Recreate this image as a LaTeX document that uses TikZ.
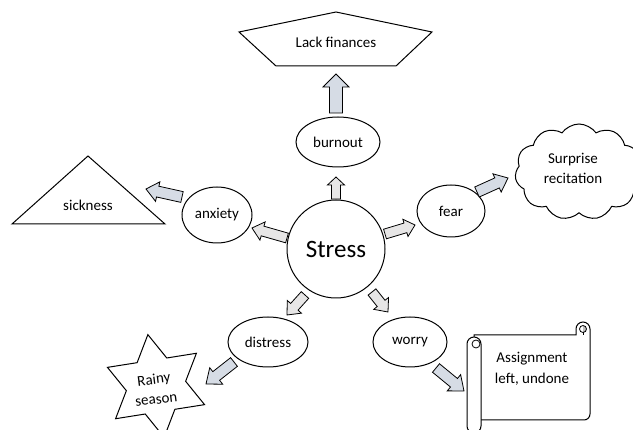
\documentclass[tikz,border=0pt]{standalone}
\usepackage{fontspec}
\setmainfont{Carlito}
\usetikzlibrary{calc,shapes.geometric,shapes.symbols}
\definecolor{arrgray}{HTML}{E7E6E6}
\definecolor{arrblue}{HTML}{D6DCE5}
\definecolor{curlgray}{HTML}{BFBFBF}
\tikzset{
  shp/.style={draw=black, line width=1pt, fill=white},
  ell/.style={shp, ellipse, inner sep=0pt, font=\fontsize{15}{18}\selectfont},
  lbl/.style={font=\fontsize{15}{20}\selectfont, align=center, inner sep=0pt},
  grayarr/.style={draw=black, line width=0.8pt, fill=arrgray, line join=miter},
  bluearr/.style={draw=black, line width=0.8pt, fill=arrblue, line join=miter},
}
% style, tail, tip, shaft half width, head half width, head length
\newcommand\blockarrow[6]{%
  \coordinate (#2-#3-h) at ($(#3)!#6!(#2)$);
  \draw[#1] ($(#2)!#4!90:(#3)$) -- ($(#2-#3-h)!#4!90:(#3)$) -- ($(#2-#3-h)!#5!90:(#3)$) -- (#3)
    -- ($(#2-#3-h)!#5!-90:(#3)$) -- ($(#2-#3-h)!#4!-90:(#3)$) -- ($(#2)!#4!-90:(#3)$) -- cycle;
}
\begin{document}
\begin{tikzpicture}[x=1pt, y=-1pt]
\useasboundingbox (0,0) rectangle (633,430);

% ---- centre
\node[shp, circle, minimum size=98pt, inner sep=0pt, font=\fontsize{25}{30}\selectfont] (stress) at (336,249) {Stress};

% ---- ellipses
\node[ell, minimum width=84pt, minimum height=50pt] (burnout) at (338,142) {burnout};
\node[ell, minimum width=70pt, minimum height=56pt] (anxiety) at (217,215) {anxiety};
\node[ell, minimum width=68pt, minimum height=52pt] (fear) at (451,211) {fear};
\node[ell, minimum width=80pt, minimum height=50pt] (distress) at (268,342) {distress};
\node[ell, minimum width=74pt, minimum height=50pt] (worry) at (410,342) {worry};

% ---- pentagon
\draw[shp] (239,32) -- (336,12) -- (432,32) -- (396,66) -- (276,66) -- cycle;
\node[lbl] (lack) at (336,42) {Lack finances};

% ---- triangle
\draw[shp] (12,224) -- (88,156) -- (165,224) -- cycle;
\node[lbl] (sick) at (88,205) {sickness};

% ---- cloud
\node[shp, cloud, cloud puffs=11, cloud puff arc=110, aspect=1.3,
      minimum width=128pt, minimum height=96pt, lbl] (cloud) at (579,172) {};
\node[lbl] (cloudtxt) at (573,168) {Surprise\\recitation};

% ---- star
\coordinate (starc) at (156,386);
\draw[shp] ($(starc)+(-99:52)$)
  \foreach \k in {0,...,5}{ -- ($(starc)+({-69+60*\k}:30)$) -- ($(starc)+({-39+60*\k}:52)$) } -- cycle;
\node[lbl, rotate=7] (rainy) at (155,389) {Rainy\\season};

% ---- scroll
\draw[shp] (474,335) -- (576,335) -- (576,329) arc[start angle=180, end angle=360, radius=7]
  -- (590,414) arc[start angle=0, end angle=90, radius=6] -- (474,420) -- cycle;
\fill[curlgray] (583,325.5) arc[start angle=270, end angle=450, radius=3.5] -- cycle;
\draw[line width=0.8pt] (583,329) circle (3.5);
\draw[line width=0.8pt] (583,332.5) -- (583,335);
\draw[shp] (467,344) arc[start angle=180, end angle=360, radius=7] -- (481,426)
  arc[start angle=0, end angle=180, radius=7] -- cycle;
\draw[line width=0.8pt, fill=white] (476,344) circle (4);
\node[lbl, font=\fontsize{15}{21}\selectfont] (assign) at (532,369) {Assignment\\left, undone};

% ---- arrows from Stress
\coordinate (s1) at (336,199); \coordinate (b1) at (336,177);
\coordinate (s2) at (287,238); \coordinate (a2) at (252,228);
\coordinate (s3) at (385,234); \coordinate (f3) at (415,225);
\coordinate (s4) at (305,295); \coordinate (d4) at (287,315);
\coordinate (s5) at (372,292); \coordinate (w5) at (388,312);
\blockarrow{grayarr}{s1}{b1}{4.5pt}{8.5pt}{8pt}
\blockarrow{grayarr}{s2}{a2}{5pt}{9.5pt}{11pt}
\blockarrow{grayarr}{s3}{f3}{5pt}{9pt}{10pt}
\blockarrow{grayarr}{s4}{d4}{5pt}{9.5pt}{11pt}
\blockarrow{grayarr}{s5}{w5}{5pt}{9.5pt}{11pt}

% ---- arrows to outer shapes
\coordinate (b6) at (336,113); \coordinate (l6) at (336,74);
\coordinate (a7) at (182,197); \coordinate (k7) at (146,189);
\coordinate (f8) at (477,192); \coordinate (c8) at (508,178);
\coordinate (d9) at (234,362); \coordinate (r9) at (206,384);
\coordinate (w10) at (436,368); \coordinate (p10) at (464,391);
\blockarrow{bluearr}{b6}{l6}{6.5pt}{13pt}{13pt}
\blockarrow{bluearr}{a7}{k7}{5.5pt}{10pt}{12pt}
\blockarrow{bluearr}{f8}{c8}{5.5pt}{10pt}{12pt}
\blockarrow{bluearr}{d9}{r9}{5.5pt}{10.5pt}{13pt}
\blockarrow{bluearr}{w10}{p10}{5.5pt}{10.5pt}{13pt}
\end{tikzpicture}
\end{document}
